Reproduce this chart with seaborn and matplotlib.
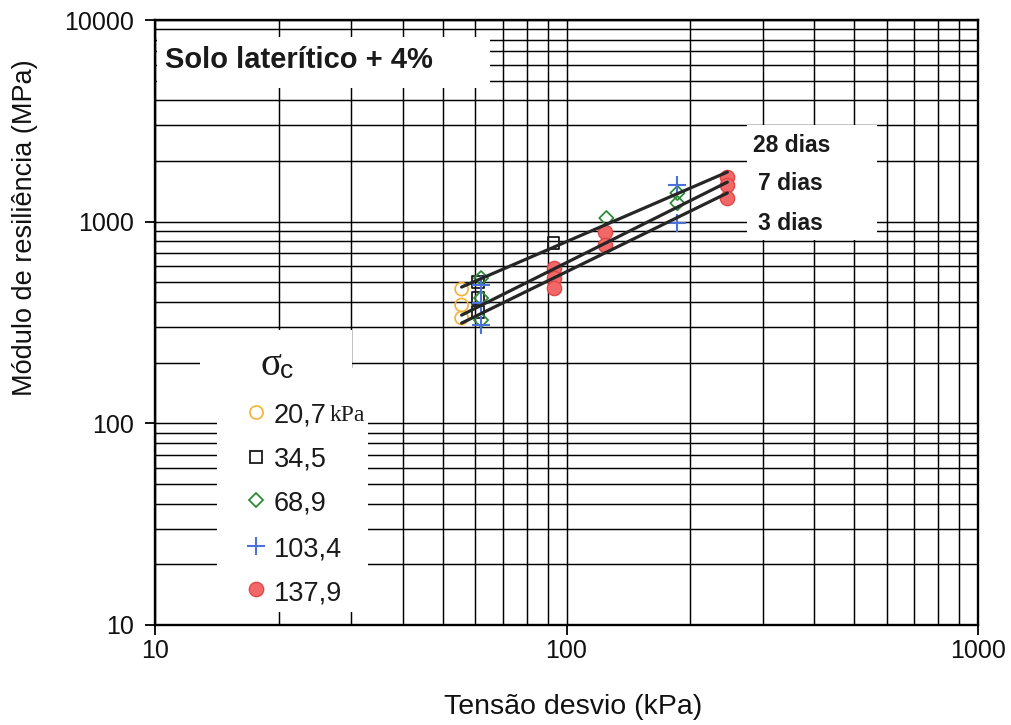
import matplotlib
matplotlib.use("Agg")
import matplotlib.pyplot as plt
import seaborn as sns
import pandas as pd
from matplotlib.patches import Rectangle
from matplotlib.ticker import FuncFormatter, NullFormatter

# Confining stress groups (kPa)
sigma_c_labels = ["20,7", "34,5", "68,9", "103,4", "137,9"]

# Deviator stress (kPa) and resilient modulus (MPa) for each confining stress
sd_207 = [55.6, 55.6, 55.6]
mr_207 = [463, 386, 333]
sd_345 = [61, 61, 61, 93]
mr_345 = [501, 418, 356, 783]
sd_689 = [62, 62, 62, 125, 186, 186]
mr_689 = [525, 418, 325, 1042, 1387, 1236]
sd_1034 = [62, 62, 62, 186, 186]
mr_1034 = [485, 395, 307, 1517, 985]
sd_1379 = [93, 93, 93, 124, 124, 246, 246, 246]
mr_1379 = [589, 525, 469, 888, 765, 1663, 1517, 1309]

# Power-law fits per curing age (end points of each fitted line)
cure_labels = ["28 dias", "7 dias", "3 dias"]
fit_sd = [55.6, 246]
fit_28 = [474, 1762]
fit_7 = [344, 1571]
fit_3 = [314, 1387]

x_ticks = [10, 100, 1000]
y_ticks = [10, 100, 1000, 10000]

W, H = 1012, 725
sns.set_style("ticks")
plt.rcParams["font.family"] = ["Liberation Sans", "DejaVu Sans"]


def fxy(x, y):
    """Figure-fraction position from pixel offsets (left, top)."""
    return x / W, 1 - y / H


fig = plt.figure(figsize=(W / 100, H / 100), dpi=100)
ax = fig.add_axes([155 / W, 1 - 625 / H, (978 - 155) / W, (625 - 20) / H])
ax.set_xscale("log")
ax.set_yscale("log")

# Full log grid in black
ax.set_axisbelow(True)
ax.grid(which="both", color="black", linewidth=1.05)

for sp in ax.spines.values():
    sp.set_color("black")
    sp.set_linewidth(1.7)

# White text boxes sitting over the grid
boxes = [
    (157, 37, 490, 88),    # title
    (747, 125, 877, 240),  # curing-age labels
    (200, 330, 352, 372),  # sigma_c heading
    (217, 368, 368, 612),  # legend entries
]
for x0, y0, x1, y1 in boxes:
    ax.add_patch(Rectangle(fxy(x0, y1), (x1 - x0) / W, (y1 - y0) / H,
                           transform=fig.transFigure, facecolor="white",
                           edgecolor="none", zorder=1))

# Marker styles per confining stress
styles = [
    dict(marker="o", s=88, facecolor="none", edgecolor="#F2B233", color="#F2B233", linewidth=1.2),
    dict(marker="s", s=72, facecolor="none", edgecolor="#1a1a1a", color="#1a1a1a", linewidth=1.3),
    dict(marker="D", s=52, facecolor="none", edgecolor="#2E8B3A", color="#2E8B3A", linewidth=1.3),
    dict(marker="+", s=160, color="#4A72D8", linewidth=1.5),
    dict(marker="o", s=105, facecolor="#F26868", edgecolor="#E04848", color="#F26868", linewidth=1.0),
]
series_x = [sd_207, sd_345, sd_689, sd_1034, sd_1379]
series_y = [mr_207, mr_345, mr_689, mr_1034, mr_1379]

frames = []
for lab, xs, ys in zip(sigma_c_labels, series_x, series_y):
    frames.append(pd.DataFrame({"sigma_d": xs, "mr": ys, "sigma_c": lab}))
data = pd.concat(frames, ignore_index=True)

for lab, st in zip(sigma_c_labels, styles):
    sub = data[data["sigma_c"] == lab]
    sns.scatterplot(data=sub, x="sigma_d", y="mr", ax=ax, legend=False,
                    zorder=3, **st)

# Fitted lines for each curing age
for ys in (fit_28, fit_7, fit_3):
    sns.lineplot(x=fit_sd, y=ys, ax=ax, color="#262626", linewidth=2.3,
                 zorder=4, errorbar=None)

ax.set_xlim(10, 1000)
ax.set_ylim(10, 10000)
ax.set_xticks(x_ticks)
ax.set_yticks(y_ticks)
ax.xaxis.set_major_formatter(FuncFormatter(lambda v, p: f"{v:g}"))
ax.yaxis.set_major_formatter(FuncFormatter(lambda v, p: f"{v:g}"))
ax.xaxis.set_minor_formatter(NullFormatter())
ax.yaxis.set_minor_formatter(NullFormatter())
ax.tick_params(which="major", direction="out", length=7, width=1.3,
               labelsize=18, color="black", labelcolor="#111111")
ax.tick_params(axis="y", which="major", pad=8)
ax.tick_params(axis="x", which="major", pad=3)
ax.tick_params(which="minor", length=0)

ax.set_xlabel("Tensão desvio (kPa)", fontsize=20.5, color="#111111")
ax.set_ylabel("Módulo de resiliência (MPa)", fontsize=19.5, color="#111111")
ax.xaxis.set_label_coords((573 - 155) / 823, (625 - 694) / 605)
ax.yaxis.set_label_coords((38 - 155) / 823, (625 - 228) / 605)

# Title
fig.text(*fxy(165, 68), "Solo laterítico + 4%", fontsize=21, fontweight="bold",
         color="#1a1a1a", ha="left", va="baseline", zorder=6)

# Curing-age labels
for lab, (px, py) in zip(cure_labels, [(753, 152), (758, 190), (758, 230)]):
    fig.text(*fxy(px, py), lab, fontsize=16.5, fontweight="bold", color="#1a1a1a",
             ha="left", va="baseline", zorder=6)

# Legend: heading
fig.text(*fxy(260, 375), "σ", fontsize=28, family=["Liberation Serif", "DejaVu Serif"],
         color="#1a1a1a", ha="left", va="baseline")
fig.text(*fxy(280, 378), "c", fontsize=19, color="#1a1a1a", ha="left", va="baseline")

# Legend: entries
marker_y = [412, 457, 500, 546, 589]
text_base = [422, 466, 510, 556, 600]
ms_px = [9.4, 8.6, 7.2, 12.5, 10.3]
for lab, st, my, ty, ms in zip(sigma_c_labels, styles, marker_y, text_base, ms_px):
    fc = st.get("facecolor", st["color"])
    ec = st.get("edgecolor", st["color"])
    ax.plot(*fxy(256, my), marker=st["marker"], markersize=ms,
            markerfacecolor=fc, markeredgecolor=ec,
            markeredgewidth=st["linewidth"], transform=fig.transFigure,
            clip_on=False, zorder=6, linestyle="none")
    fig.text(*fxy(274, ty), lab, fontsize=19.5, color="#1a1a1a",
             ha="left", va="baseline")
fig.text(*fxy(330, 421), "kPa", fontsize=17, family=["Liberation Serif", "DejaVu Serif"],
         color="#1a1a1a", ha="left", va="baseline")

fig.savefig("out.png", dpi=100, facecolor="white")
